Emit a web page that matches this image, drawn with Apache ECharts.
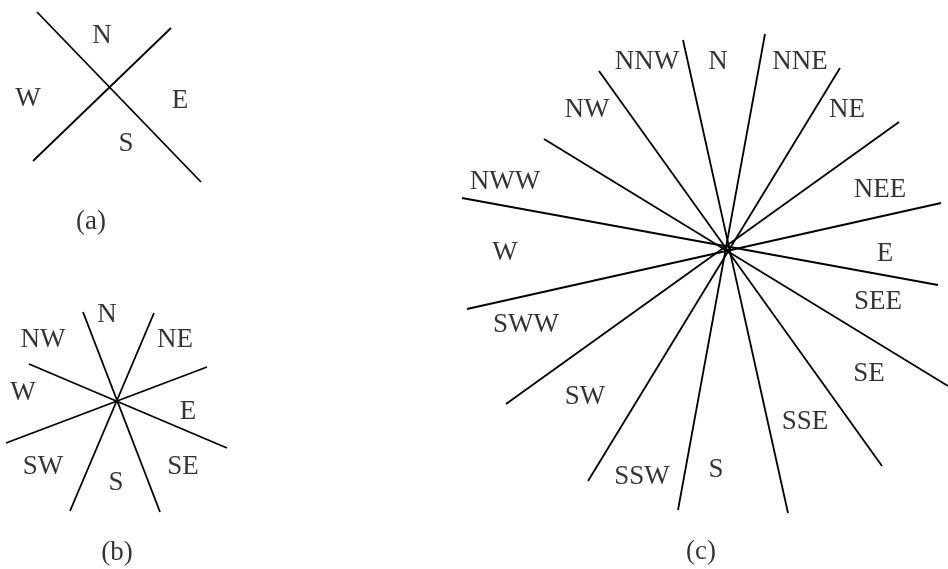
<!DOCTYPE html>
<html>
<head>
<meta charset="utf-8">
<script src="https://cdn.jsdelivr.net/npm/echarts@6/dist/echarts.min.js"></script>
<style>
html,body{margin:0;padding:0;background:#fff;}
#main{width:948px;height:569px;}
</style>
</head>
<body>
<div id="main"></div>
<script>
// line segments [x1,y1,x2,y2] for each sector diagram
var linesA = [[37,12,201,182],[171,28,33,161]];
var linesB = [[83,312,160,512],[154,313,70,511],[29,364,227,448],[207,367,6,443]];
var linesC = [
	[683,40,788,513],[765,34,678,510],[599,71,882,466],[840,68,588,481],
	[544,139,948,386],[899,122,506,404],[462,198,938,285],[941,203,467,309]
];

// sector names and where they sit
var namesA = ["N","W","E","S"];
var posA = [[102,36],[28,99],[180,101],[126,144]];
var namesB = ["N","NW","NE","W","E","SW","S","SE"];
var posB = [[107,315],[43,340],[175,340],[23,393],[188,412],[43,467],[116,483],[183,467]];
var namesC = ["NNW","N","NNE","NW","NE","NWW","NEE","W","E","SEE","SWW","SW","SE","SSE","SSW","S"];
var posC = [[647,62],[718,62],[800,62],[587,110],[847,110],[505,182],[880,190],[505,253],[885,254],
	[878,302],[526,325],[585,397],[869,374],[805,422],[642,477],[716,470]];

var captions = ["(a)","(b)","(c)"];
var captionPos = [[91,222],[117,553],[701,552]];

var myChart = echarts.init(document.getElementById('main'));

function toLines(list){
	var res = [];
	for(var i=0;i<list.length;i++){
		var s = list[i];
		res.push({coords:[[s[0],s[1]],[s[2],s[3]]]});
	}
	return res;
}

function toPoints(names,pos){
	var res = [];
	for(var i=0;i<names.length;i++){
		res.push({name:names[i], value:pos[i]});
	}
	return res;
}

var allLines = toLines(linesA).concat(toLines(linesB)).concat(toLines(linesC));
var allNames = toPoints(namesA,posA).concat(toPoints(namesB,posB)).concat(toPoints(namesC,posC))
	.concat(toPoints(captions,captionPos));

var option = {
	backgroundColor:'#fff',
	animation:false,
	grid:{left:0,right:0,top:0,bottom:0},
	xAxis:{type:'value',min:0,max:948,show:false},
	yAxis:{type:'value',min:0,max:569,inverse:true,show:false},
	series:[
		{
			type:'lines',
			coordinateSystem:'cartesian2d',
			lineStyle:{color:'#000',width:1.8,opacity:1},
			data:allLines
		},
		{
			type:'scatter',
			symbolSize:2,
			itemStyle:{color:'rgba(255,255,255,0)'},
			label:{
				show:true,
				position:'inside',
				formatter:'{b}',
				color:'#000',
				fontFamily:'Liberation Serif',
				fontSize:27
			},
			data:allNames
		}
	]
};
myChart.setOption(option);
</script>
</body>
</html>
